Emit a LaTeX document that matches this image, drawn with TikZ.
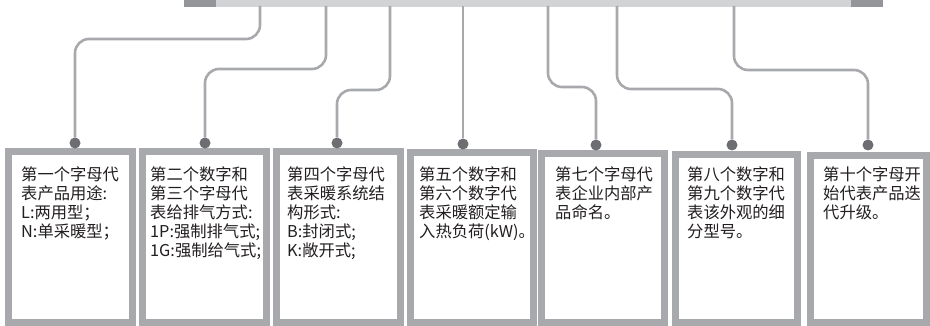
\documentclass[tikz,border=0pt]{standalone}
\usepackage{fontspec}
\setmainfont{Noto Sans CJK SC}
\usetikzlibrary{positioning,backgrounds}

\definecolor{framegray}{HTML}{A7A9AC}
\definecolor{dotgray}{HTML}{6D6E71}
\definecolor{barlight}{HTML}{D1D3D4}
\definecolor{bardark}{HTML}{939598}
\definecolor{inktext}{HTML}{231F20}

\begin{document}
\begin{tikzpicture}[
    x=1pt, y=-1pt,
    panel/.style={rectangle, draw=framegray, line width=7pt, fill=white, inner sep=0pt},
    note/.style={anchor=north west, inner sep=0pt, align=left, text=inktext, font=\fontsize{16.3}{19.2}\selectfont},
    pin/.style={circle, fill=dotgray, minimum size=11pt, inner sep=0pt},
    link/.style={draw=framegray, line width=2.6pt, rounded corners=14pt},
    barmid/.style={rectangle, fill=barlight, inner sep=0pt, minimum height=7pt},
    barend/.style={rectangle, fill=bardark, inner sep=0pt, minimum height=7pt, minimum width=32pt}
]
\useasboundingbox (0,0) rectangle (930,326);

% Top bar
\node[barmid, minimum width=699pt] at (533.5,3.5) (bar) {};
\node[barend] at (200,3.5) (barleft) {};
\node[barend] at (867,3.5) (barright) {};

% Drop points on the bar
\coordinate (t1) at (260,6);
\coordinate (t2) at (326,6);
\coordinate (t3) at (390,6);
\coordinate (t4) at (463,6);
\coordinate (t5) at (548,6);
\coordinate (t6) at (617,6);
\coordinate (t7) at (734,6);

% Boxes
\node[panel, minimum width=124pt, minimum height=171pt] at (70.5,237) (box1) {};
\node[panel, minimum width=124pt, minimum height=171pt] at (204.5,237) (box2) {};
\node[panel, minimum width=124pt, minimum height=171pt] at (338.5,237) (box3) {};
\node[panel, minimum width=123pt, minimum height=170pt] at (472,237.5) (box4) {};
\node[panel, minimum width=123pt, minimum height=169pt] at (603,238) (box5) {};
\node[panel, minimum width=122pt, minimum height=168pt] at (736.5,238.5) (box6) {};
\node[panel, minimum width=116pt, minimum height=167pt] at (868.5,239) (box7) {};

% Pins
\node[pin] at (75,143) (pin1) {};
\node[pin] at (205,143) (pin2) {};
\node[pin] at (337,143) (pin3) {};
\node[pin] at (463,144) (pin4) {};
\node[pin] at (596,145) (pin5) {};
\node[pin] at (732,145) (pin6) {};
\node[pin] at (868,145) (pin7) {};

% Links
\draw[link] (t1) -- ++(0,33) -| (pin1);
\draw[link] (t2) -- ++(0,63) -| (pin2);
\draw[link] (t3) -- ++(0,84) -| (pin3);
\draw[link] (t4) -- (pin4);
\draw[link] (t5) -- ++(0,81) -| (pin5);
\draw[link] (t6) -- ++(0,83) -| (pin6);
\draw[link] (t7) -- ++(0,64) -| (pin7);

% Texts
\node[note] at (21,166) (text1) {第一个字母代\\表产品用途:\\L:两用型；\\N:单采暖型；};
\node[note] at (150,166) (text2) {第二个数字和\\第三个字母代\\表给排气方式:\\1P:强制排气式;\\1G:强制给气式;};
\node[note] at (287,166) (text3) {第四个字母代\\表采暖系统结\\构形式:\\B:封闭式;\\K:敞开式;};
\node[note] at (419,166) (text4) {第五个数字和\\第六个数字代\\表采暖额定输\\入热负荷(kW)。};
\node[note] at (555,166) (text5) {第七个字母代\\表企业内部产\\品命名。};
\node[note] at (687,166) (text6) {第八个数字和\\第九个数字代\\表该外观的细\\分型号。};
\node[note] at (823,166) (text7) {第十个字母开\\始代表产品迭\\代升级。};

\end{tikzpicture}
\end{document}
